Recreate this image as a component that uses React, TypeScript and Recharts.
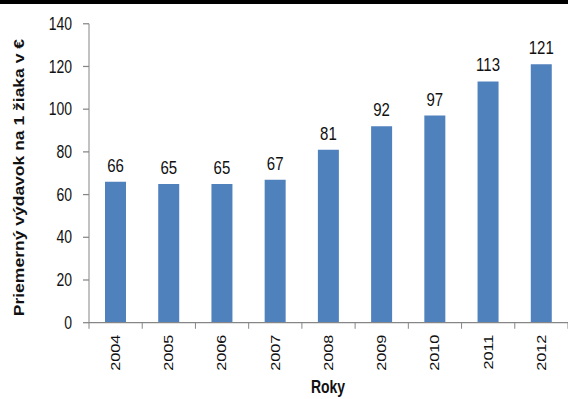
import { BarChart, Bar, XAxis, YAxis, LabelList, Label } from 'recharts'

const years = ['2004', '2005', '2006', '2007', '2008', '2009', '2010', '2011', '2012']
const spending = [66, 65, 65, 67, 81, 92, 97, 113, 121]
const yTicks = [0, 20, 40, 60, 80, 100, 120, 140]

const data = years.map((y, i) => ({ year: y, value: spending[i] }))

// the original picture is stretched vertically, so draw flat and scale up
const W = 568
const H = 319
const STRETCH = 399 / H
const FONT = '"Liberation Sans", Arial, sans-serif'
const AXIS = '#868686'
const LEFT = 89
const BAND = (W - LEFT) / years.length

function YearTick({ x, y, payload, index }: { x?: number; y?: number; payload?: { value: string }; index?: number }) {
  const cx = x ?? 0
  const cy = y ?? 0
  const ay = cy - 8
  const ty = ay + 9.5
  return (
    <g>
      <line x1={cx - BAND / 2} y1={ay} x2={cx - BAND / 2} y2={ay + 4.8} stroke={AXIS} />
      {index === years.length - 1 && (
        <line x1={cx + BAND / 2} y1={ay} x2={cx + BAND / 2} y2={ay + 4.8} stroke={AXIS} />
      )}
      <text
        x={cx}
        y={ty}
        transform={`rotate(-90 ${cx} ${ty})`}
        textAnchor="end"
        dominantBaseline="central"
        fontFamily={FONT}
        fontSize={13}
        fill="#111"
      >
        {payload?.value}
      </text>
    </g>
  )
}

export default function App() {
  return (
    <div style={{ position: 'fixed', left: 0, top: 0, width: W, height: 399, background: '#fff', overflow: 'hidden' }}>
      <div style={{ transform: `scaleY(${STRETCH})`, transformOrigin: '0 0' }}>
        <BarChart
          width={W}
          height={H}
          data={data}
          margin={{ top: 19, right: 0, left: 0, bottom: 0 }}
          barSize={21}
        >
          <XAxis
            dataKey="year"
            height={61}
            stroke={AXIS}
            tickLine={false}
            tick={<YearTick />}
            interval={0}
          >
            <Label
              content={() => (
                <text x={328} y={314} textAnchor="middle" fontFamily={FONT} fontSize={14} fontWeight="bold" fill="#111">
                  Roky
                </text>
              )}
            />
          </XAxis>
          <YAxis
            width={LEFT}
            domain={[0, 140]}
            ticks={yTicks}
            stroke={AXIS}
            tickSize={6}
            tickMargin={11}
            tick={{ fill: '#111', fontSize: 14, fontFamily: FONT }}
          >
            <Label
              content={() => (
                <text
                  x={19}
                  y={142}
                  transform="rotate(-90 19 142)"
                  textAnchor="middle"
                  dominantBaseline="central"
                  fontFamily={FONT}
                  fontSize={14}
                  fontWeight="bold"
                  fill="#111"
                >
                  Priemerný  výdavok na 1 žiaka v €
                </text>
              )}
            />
          </YAxis>
          <Bar dataKey="value" fill="#4F81BD" isAnimationActive={false}>
            <LabelList dataKey="value" position="top" offset={8} fill="#111" fontSize={15} fontFamily={FONT} />
          </Bar>
        </BarChart>
      </div>
      <div style={{ position: 'absolute', left: 0, top: 0, width: W, height: 4, background: '#000' }} />
    </div>
  )
}
